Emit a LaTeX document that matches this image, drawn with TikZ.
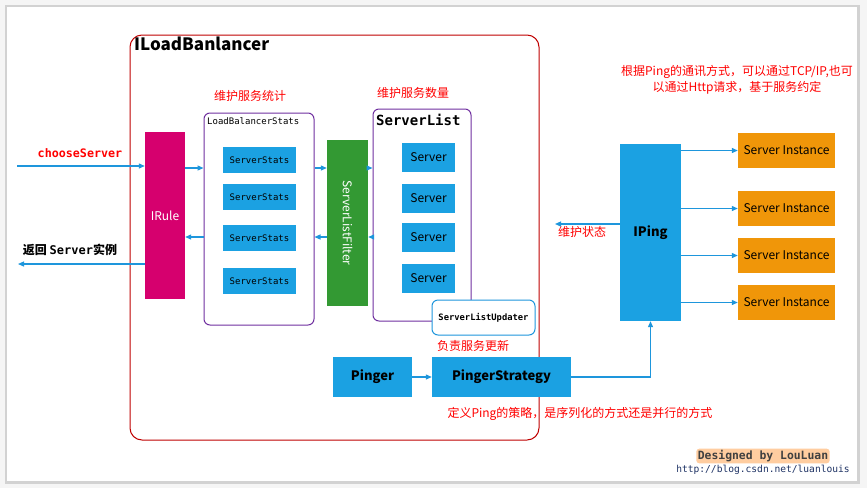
\documentclass[tikz,border=0pt]{standalone}
\usepackage{fontspec}
\setmainfont{Noto Sans CJK SC}
\setmonofont{DejaVu Sans Mono}
\usetikzlibrary{arrows.meta}
\definecolor{ilbred}{RGB}{192,0,0}
\definecolor{grppurple}{RGB}{112,48,160}
\definecolor{rulemag}{RGB}{214,0,110}
\definecolor{boxblue}{RGB}{27,161,226}
\definecolor{filtgreen}{RGB}{51,153,51}
\definecolor{instorange}{RGB}{240,150,9}
\definecolor{arrblue}{RGB}{30,150,220}
\definecolor{notered}{RGB}{255,0,0}
\definecolor{urlblue}{RGB}{30,50,100}
\definecolor{glow}{RGB}{255,205,160}
\begin{document}
\begin{tikzpicture}[x=1pt, y=-1pt, every node/.style={inner sep=0pt},
  groupbox/.style={draw=grppurple, line width=1pt, rounded corners=6pt},
  statbox/.style={fill=boxblue, minimum width=73pt, minimum height=26pt, font=\ttfamily\fontsize{9}{11}\selectfont},
  srvbox/.style={fill=boxblue, minimum width=53pt, minimum height=29pt, font=\fontsize{12}{14}\selectfont},
  instbox/.style={fill=instorange, minimum width=97pt, minimum height=35pt, font=\fontsize{12}{14}\selectfont},
  pingbox/.style={fill=boxblue, minimum height=40pt, font=\bfseries\fontsize{13}{15}\selectfont},
  note/.style={text=notered, font=\fontsize{12}{16}\selectfont},
  arr/.style={draw=arrblue, line width=1.2pt, -{Triangle[length=6pt,width=5pt]}}]
\useasboundingbox (0,0) rectangle (867,488);
\fill[gray!8] (0,0) rectangle (867,488);
\fill[gray!35] (5,5) rectangle (860,484);
\fill[white] (7,7) rectangle (857,481);
% container
\node[draw=ilbred, line width=1pt, rounded corners=12pt, minimum width=409pt, minimum height=405pt] (ilb) at (334.5,237.5) {};
\node[anchor=north west, font=\bfseries\fontsize{17}{20}\selectfont] (ilbt) at (134,37) {ILoadBanlancer};
% rule and stats
\node[fill=rulemag, text=white, minimum width=40pt, minimum height=167pt, font=\fontsize{12}{14}\selectfont] (rule) at (165,215.5) {IRule};
\node[note] (lbsn) at (250,96) {维护服务统计};
\node[groupbox, minimum width=110pt, minimum height=212pt] (lbs) at (259,219) {};
\node[anchor=west, font=\ttfamily\fontsize{9}{11}\selectfont] (lbst) at (207,121) {LoadBalancerStats};
\node[statbox] (ss1) at (259.5,160) {ServerStats};
\node[statbox] (ss2) at (259.5,197) {ServerStats};
\node[statbox] (ss3) at (259.5,238) {ServerStats};
\node[statbox] (ss4) at (259.5,281) {ServerStats};
% filter and server list
\node[fill=filtgreen, minimum width=41pt, minimum height=166pt] (filter) at (347.5,223) {};
\node[text=white, rotate=-90, font=\fontsize{12}{14}\selectfont] (filtt) at (filter) {ServerListFilter};
\node[note] (sln) at (413,93) {维护服务数量};
\node[groupbox, minimum width=98pt, minimum height=212pt] (slist) at (422,215) {};
\node[anchor=west, font=\ttfamily\bfseries\fontsize{14}{16}\selectfont] (slt) at (376,120) {ServerList};
\node[srvbox] (sv1) at (428.5,157.5) {Server};
\node[srvbox] (sv2) at (428.5,198) {Server};
\node[srvbox] (sv3) at (428.5,237.5) {Server};
\node[srvbox] (sv4) at (428.5,278) {Server};
\node[draw=arrblue, fill=white, line width=1pt, rounded corners=6pt, minimum width=103pt, minimum height=35pt, font=\ttfamily\bfseries\fontsize{8.8}{10}\selectfont] (upd) at (483.5,317.5) {ServerListUpdater};
\node[note] (updn) at (473,346) {负责服务更新};
% pinger
\node[pingbox, minimum width=79pt] (pinger) at (372.5,377) {Pinger};
\node[pingbox, minimum width=139pt] (strat) at (501.5,377) {PingerStrategy};
\node[note] (stratn) at (580,414) {定义Ping的策略，是序列化的方式还是并行的方式};
\node[fill=boxblue, minimum width=61pt, minimum height=177pt, font=\bfseries\fontsize{13}{15}\selectfont] (ping) at (650.5,232.5) {IPing};
\node[note] (pingn) at (582,232) {维护状态};
\node[note, align=center] (tcpn) at (737,80) {根据Ping的通讯方式，可以通过TCP/IP,也可\\以通过Http请求，基于服务约定};
\node[instbox] (si1) at (786.5,150.5) {Server Instance};
\node[instbox] (si2) at (786.5,208.5) {Server Instance};
\node[instbox] (si3) at (786.5,255.5) {Server Instance};
\node[instbox] (si4) at (786.5,302.5) {Server Instance};
% outside texts
\node[text=notered, font=\ttfamily\bfseries\fontsize{11.7}{14}\selectfont] (csn) at (80,153) {chooseServer};
\node[font=\bfseries\fontsize{12}{14}\selectfont] (retn) at (70,250) {返回 {\ttfamily Server}实例};
\node[fill=glow, rounded corners=3pt, inner sep=1.5pt, text=black!75, font=\ttfamily\bfseries\fontsize{11.4}{13}\selectfont] (sign) at (763,456) {Designed by LouLuan};
\node[text=urlblue, font=\ttfamily\fontsize{9.6}{11}\selectfont] (url) at (763,470) {http://blog.csdn.net/luanlouis};
% connectors
\coordinate (cs) at (17,166);
\coordinate (ret) at (18,264);
\coordinate (top) at (0,168);
\coordinate (bot) at (0,237);
\coordinate (st) at (555,224);
\draw[arr] (cs) -- (rule.west |- cs);
\draw[arr] (rule.west |- ret) -- (ret);
\draw[arr] (rule.east |- top) -- (lbs.west |- top);
\draw[arr] (lbs.west |- bot) -- (rule.east |- bot);
\draw[arr] (lbs.east |- top) -- (filter.west |- top);
\draw[arr] (filter.west |- bot) -- (lbs.east |- bot);
\draw[arr] (filter.east |- top) -- (slist.west |- top);
\draw[arr] (slist.west |- bot) -- (filter.east |- bot);
\draw[arr] (pinger) -- (strat);
\draw[arr] (strat.east) -| (ping.south);
\draw[arr] (ping.west |- st) -- (st);
\draw[arr] (ping.east |- si1) -- (si1);
\draw[arr] (ping.east |- si2) -- (si2);
\draw[arr] (ping.east |- si3) -- (si3);
\draw[arr] (ping.east |- si4) -- (si4);
\end{tikzpicture}
\end{document}
